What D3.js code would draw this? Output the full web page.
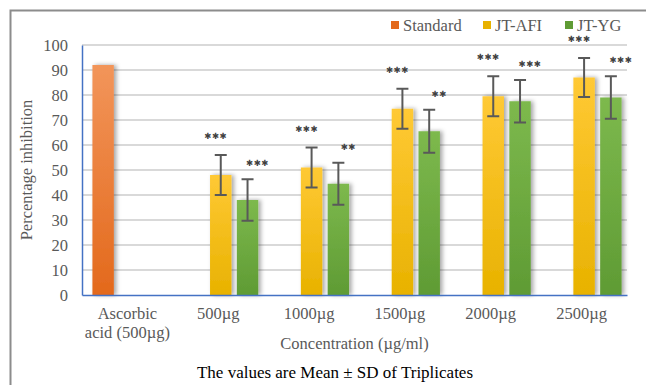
<!DOCTYPE html>
<html>
<head>
<meta charset="utf-8">
<script src="https://cdn.jsdelivr.net/npm/d3@7"></script>
<style>
  body { margin: 0; background: #fff; }
  svg text { font-family: "Liberation Serif", "Times New Roman", serif; }
</style>
</head>
<body>
<div id="chart"></div>
<script>
// categories and series
var categories = ["Ascorbic acid (500µg)", "500µg", "1000µg", "1500µg", "2000µg", "2500µg"];
var series = ["Standard", "JT-AFI", "JT-YG"];
var standardVals = [92, null, null, null, null, null];
var afiVals = [null, 48, 51, 74.5, 79.5, 87];
var ygVals = [null, 38, 44.5, 65.5, 77.5, 79];
var afiSD = [null, 8, 8, 8, 8, 7.8];
var ygSD = [null, 8.3, 8.4, 8.6, 8.5, 8.5];
var afiStars = ["", "***", "***", "***", "***", "***"];
var ygStars = ["", "***", "**", "**", "***", "***"];
var yTicks = [0, 10, 20, 30, 40, 50, 60, 70, 80, 90, 100];

var W = 646, H = 385,
    margin = {top: 45, right: 19, bottom: 90, left: 82},
    width = W - margin.left - margin.right,
    height = H - margin.top - margin.bottom,
    serif = "'Liberation Serif', 'Times New Roman', serif",
    fs = "16.5px";

var svg = d3.select("#chart").append("svg")
    .attr("width", W).attr("height", H);

// outer frame (top + left only visible)
svg.append("path")
    .attr("d", "M10.5," + H + "V10.5H" + W)
    .attr("fill", "none").attr("stroke", "#8c8c8c").attr("stroke-width", 2);

var defs = svg.append("defs");
var grads = {
  "Standard": ["#f2955a", "#e3691c"],
  "JT-AFI": ["#ffc935", "#e8b200"],
  "JT-YG": ["#7db94d", "#5f9b34"]
};
series.forEach(function(s, i) {
  var g = defs.append("linearGradient").attr("id", "g" + i)
      .attr("x1", 0).attr("x2", 0).attr("y1", 0).attr("y2", 1);
  g.append("stop").attr("offset", "0%").attr("stop-color", grads[s][0]);
  g.append("stop").attr("offset", "100%").attr("stop-color", grads[s][1]);
});
var sh = defs.append("filter").attr("id", "shadow")
    .attr("x", "-50%").attr("y", "-10%").attr("width", "200%").attr("height", "120%");
sh.append("feDropShadow").attr("dx", 2.5).attr("dy", 0).attr("stdDeviation", 2)
    .attr("flood-color", "#000").attr("flood-opacity", 0.35);

var plot = svg.append("g")
    .attr("transform", "translate(" + margin.left + "," + margin.top + ")");

var x = d3.scaleBand().domain(categories).range([0, width]);
var xs = d3.scaleBand().domain(series).range([x.bandwidth() / 2 - 35, x.bandwidth() / 2 + 40]).paddingInner(0.2);
var y = d3.scaleLinear().domain([0, 100]).range([height, 0]);

// gridlines
plot.append("g").selectAll("line").data(yTicks.slice(1)).enter().append("line")
    .attr("x1", 0).attr("x2", width)
    .attr("y1", function(d) { return y(d); }).attr("y2", function(d) { return y(d); })
    .attr("stroke", "#d9d9d9").attr("stroke-width", 2);

// y axis
var yAxis = plot.append("g").call(d3.axisLeft(y).tickValues(yTicks).tickSize(0).tickPadding(14));
yAxis.attr("font-family", null).attr("font-size", null);
yAxis.select(".domain").attr("stroke", "#4472c4").attr("stroke-width", 1.5);
yAxis.selectAll("text").attr("fill", "#595959")
    .style("font-family", serif).style("font-size", fs);

var rows = [];
categories.forEach(function(c, i) {
  rows.push({cat: c, s: "Standard", si: 0, v: standardVals[i], sd: null, star: ""});
  rows.push({cat: c, s: "JT-AFI", si: 1, v: afiVals[i], sd: afiSD[i], star: afiStars[i]});
  rows.push({cat: c, s: "JT-YG", si: 2, v: ygVals[i], sd: ygSD[i], star: ygStars[i]});
});
rows = rows.filter(function(d) { return d.v != null; });

plot.append("g").selectAll("rect").data(rows).enter().append("rect")
    .attr("x", function(d) { return x(d.cat) + xs(d.s); })
    .attr("y", function(d) { return y(d.v); })
    .attr("width", xs.bandwidth())
    .attr("height", function(d) { return y(0) - y(d.v); })
    .attr("fill", function(d) { return "url(#g" + d.si + ")"; })
    .attr("filter", "url(#shadow)");

// error bars
var eb = plot.append("g").selectAll("g").data(rows.filter(function(d) { return d.sd; })).enter().append("g")
    .attr("stroke", "#595959").attr("stroke-width", 2);
function cx(d) { return x(d.cat) + xs(d.s) + xs.bandwidth() / 2; }
eb.append("line")
    .attr("x1", cx).attr("x2", cx)
    .attr("y1", function(d) { return y(d.v + d.sd); })
    .attr("y2", function(d) { return y(d.v - d.sd); });
eb.append("line")
    .attr("x1", function(d) { return cx(d) - 6; }).attr("x2", function(d) { return cx(d) + 6; })
    .attr("y1", function(d) { return y(d.v + d.sd); }).attr("y2", function(d) { return y(d.v + d.sd); });
eb.append("line")
    .attr("x1", function(d) { return cx(d) - 6; }).attr("x2", function(d) { return cx(d) + 6; })
    .attr("y1", function(d) { return y(d.v - d.sd); }).attr("y2", function(d) { return y(d.v - d.sd); });

// significance stars
plot.append("g").selectAll("text").data(rows.filter(function(d) { return d.star; })).enter().append("text")
    .attr("x", function(d) { return cx(d) + (d.si == 1 ? -5 : 10); })
    .attr("y", function(d) { return y(d.v + d.sd) - (d.si == 1 ? 16 : 13); })
    .attr("text-anchor", "middle")
    .attr("fill", "#404040")
    .style("font-family", "'DejaVu Sans', sans-serif")
    .style("font-size", "8.5px")
    .style("letter-spacing", "0.5px")
    .text(function(d) { return d.star.replace(/\*/g, "✱"); });

// x axis
var xAxis = plot.append("g").attr("transform", "translate(0," + height + ")")
    .call(d3.axisBottom(x).tickSize(0).tickFormat(""));
xAxis.select(".domain").attr("stroke", "#4472c4").attr("stroke-width", 1.5);
var xl = plot.append("g").selectAll("text").data(categories).enter().append("text")
    .attr("x", function(d) { return x(d) + x.bandwidth() / 2; })
    .attr("y", height + 24)
    .attr("text-anchor", "middle")
    .attr("fill", "#595959")
    .style("font-size", fs);
xl.each(function(d) {
  var t = d3.select(this);
  var parts = d.indexOf("(") > 0 ? ["Ascorbic", "acid (500µg)"] : [d];
  parts.forEach(function(p, i) {
    t.append("tspan").attr("x", x(d) + x.bandwidth() / 2).attr("dy", i ? 19 : 0).text(p);
  });
});

// axis titles
svg.append("text")
    .attr("x", margin.left + width / 2).attr("y", 349)
    .attr("text-anchor", "middle").attr("fill", "#595959")
    .style("font-size", fs)
    .text("Concentration (µg/ml)");
svg.append("text")
    .attr("transform", "translate(32," + (margin.top + height / 2) + ") rotate(-90)")
    .attr("text-anchor", "middle").attr("fill", "#595959")
    .style("font-size", fs)
    .text("Percentage inhibition");

// legend
var legendX = [391, 483, 565];
var lg = svg.append("g").selectAll("g").data(series).enter().append("g")
    .attr("transform", function(d, i) { return "translate(" + legendX[i] + ",25)"; });
lg.append("rect").attr("x", 0).attr("y", -4).attr("width", 8).attr("height", 8)
    .attr("fill", function(d) { return grads[d][1]; });
lg.append("text").attr("x", 12).attr("y", 5.5)
    .attr("fill", "#595959").style("font-size", fs)
    .text(function(d) { return d; });

// footer
svg.append("text")
    .attr("x", 335).attr("y", 378)
    .attr("text-anchor", "middle").attr("fill", "#000")
    .style("font-size", "17px")
    .text("The values are Mean ± SD of Triplicates");
</script>
</body>
</html>
